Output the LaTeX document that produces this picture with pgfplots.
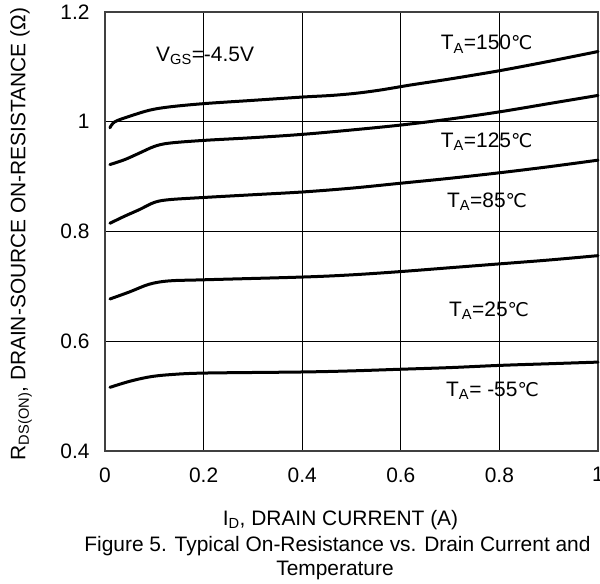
\documentclass[border=0pt]{standalone}
\usepackage{pgfplots}
\pgfplotsset{compat=1.18}
\usepackage{fontspec}
\setmainfont{Liberation Sans}
\newfontfamily\degfont{DejaVu Sans}
\newcommand{\degC}{{\degfont\fontsize{19}{24}\selectfont ℃}}
\newcommand{\fs}{\fontsize{21}{24}\selectfont}
\tikzset{curve/.style={black, line width=3bp, smooth, tension=0.55, line cap=round, no markers}}
\begin{document}
\begin{tikzpicture}
\begin{axis}[
  scale only axis, width=493bp, height=439bp,
  xmin=0, xmax=1, ymin=0.4, ymax=1.2,
  xtick={0,0.2,0.4,0.6,0.8,1}, ytick={0.4,0.6,0.8,1,1.2},
  xticklabels={0,0.2,0.4,0.6,0.8,1}, yticklabels={0.4,0.6,0.8,1,1.2},
  grid=major, major grid style={black, line width=0.8bp},
  axis line style={draw=black!75, line width=1.6bp},
  major tick length=0pt,
  tick label style={font=\fs},
  xticklabel style={yshift=-13bp},
  yticklabel style={xshift=-12bp},
  clip=false,
]
\addplot[curve] coordinates {(0.01,0.989)(0.02,1.000)(0.05,1.010)(0.09,1.021)(0.13,1.027)(0.2,1.033)(0.3,1.039)(0.4,1.045)(0.46,1.048)(0.51,1.052)(0.56,1.058)(0.62,1.067)(0.7,1.078)(0.8,1.093)(0.9,1.110)(1.0,1.128)};
\addplot[curve] coordinates {(0.01,0.922)(0.04,0.931)(0.07,0.943)(0.1,0.955)(0.13,0.961)(0.2,0.966)(0.3,0.971)(0.4,0.977)(0.5,0.985)(0.6,0.994)(0.7,1.005)(0.8,1.018)(0.9,1.033)(1.0,1.048)};
\addplot[curve] coordinates {(0.01,0.815)(0.04,0.828)(0.07,0.840)(0.1,0.853)(0.13,0.858)(0.2,0.862)(0.3,0.867)(0.4,0.872)(0.5,0.879)(0.6,0.888)(0.7,0.897)(0.8,0.907)(0.9,0.918)(1.0,0.930)};
\addplot[curve] coordinates {(0.01,0.677)(0.05,0.690)(0.09,0.704)(0.13,0.710)(0.2,0.712)(0.4,0.717)(0.5,0.721)(0.6,0.727)(0.7,0.734)(0.8,0.741)(0.9,0.748)(1.0,0.756)};
\addplot[curve] coordinates {(0.01,0.516)(0.05,0.527)(0.09,0.535)(0.13,0.539)(0.2,0.542)(0.4,0.544)(0.5,0.546)(0.6,0.549)(0.7,0.552)(0.8,0.556)(0.9,0.559)(1.0,0.562)};
\node[anchor=base, font=\fs] at (axis cs:0.203,1.1095) {V\textsubscript{GS}=-4.5V};
\node[anchor=base, font=\fs] at (axis cs:0.774,1.1308) {T\textsubscript{A}=150\degC};
\node[anchor=base, font=\fs] at (axis cs:0.774,0.9535) {T\textsubscript{A}=125\degC};
\node[anchor=base, font=\fs] at (axis cs:0.775,0.844) {T\textsubscript{A}=85\degC};
\node[anchor=base, font=\fs] at (axis cs:0.779,0.645) {T\textsubscript{A}=25\degC};
\node[anchor=base, font=\fs] at (axis cs:0.786,0.499) {T\textsubscript{A}= -55\degC};
\coordinate (O) at (rel axis cs:0,0);
\node[font=\fs, anchor=base] at ([xshift=235.5bp, yshift=-74bp]O) {I\textsubscript{D}, DRAIN CURRENT (A)};
\node[font=\fs, anchor=base] at ([xshift=232.5bp, yshift=-100bp]O) {Figure 5. Typical On-Resistance vs. Drain Current and};
\node[font=\fs, anchor=base] at ([xshift=230bp, yshift=-124bp]O) {Temperature};
\node[font=\fs, rotate=90, anchor=center] at ([xshift=-84bp, yshift=217bp]O) {R\textsubscript{DS(ON)}, DRAIN-SOURCE ON-RESISTANCE (Ω)};
\end{axis}
\pgfresetboundingbox
\path (O) ++(-105bp,-133bp) rectangle ++(600bp,584bp);
\end{tikzpicture}
\end{document}
